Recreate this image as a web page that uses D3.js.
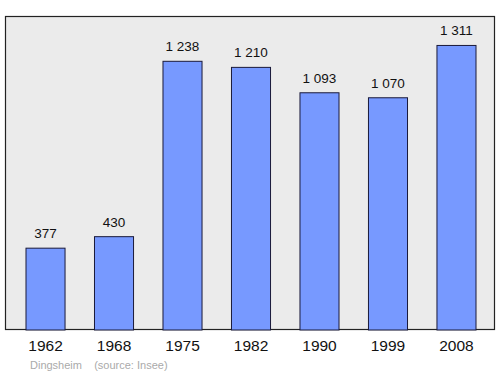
<!DOCTYPE html>
<html>
<head>
<meta charset="utf-8">
<script src="https://cdn.jsdelivr.net/npm/d3@7"></script>
<style>
  body { margin: 0; background: #fff; }
  text { font-family: "Liberation Sans", Arial, sans-serif; }
</style>
</head>
<body>
<div id="chart"></div>
<script>
// population data
const years = ["1962", "1968", "1975", "1982", "1990", "1999", "2008"];
const population = [377, 430, 1238, 1210, 1093, 1070, 1311];
const valueLabels = ["377", "430", "1 238", "1 210", "1 093", "1 070", "1 311"];

const width = 500, height = 374;

let svg = d3.select("#chart")
    .append("svg")
    .attr("width", width)
    .attr("height", height);

// panel
svg.append("rect")
    .attr("x", 5.5)
    .attr("y", 16.5)
    .attr("width", 489)
    .attr("height", 313)
    .attr("fill", "#ebebeb")
    .attr("stroke", "#222")
    .attr("stroke-width", 1.2);

let x = d3.scaleBand()
    .domain(years)
    .range([5.45, 496.55])
    .paddingInner(0.43)
    .paddingOuter(0.3);

let y = d3.scaleLinear()
    .domain([0, d3.max(population) * 1.1])
    .range([330, 17]);

let data = years.map((d, i) => ({year: d, value: population[i], label: valueLabels[i]}));

svg.selectAll("rect.bar")
    .data(data)
    .enter()
    .append("rect")
    .attr("class", "bar")
    .attr("x", d => x(d.year))
    .attr("y", d => y(d.value))
    .attr("width", x.bandwidth())
    .attr("height", d => y(0) - y(d.value))
    .attr("fill", "#7799ff")
    .attr("stroke", "#1a1a3a")
    .attr("stroke-width", 1);

// value labels
svg.selectAll("text.val")
    .data(data)
    .enter()
    .append("text")
    .attr("class", "val")
    .attr("x", d => x(d.year) + x.bandwidth() / 2)
    .attr("y", d => y(d.value) - 10)
    .attr("text-anchor", "middle")
    .attr("font-size", 13.5)
    .attr("fill", "#111")
    .text(d => d.label);

// x axis (years)
let xAxis = svg.append("g")
    .attr("transform", "translate(0, 330)")
    .call(d3.axisBottom(x).tickSize(0).tickPadding(10));
xAxis.select(".domain").remove();
xAxis.selectAll("text")
    .attr("font-family", "Liberation Sans, Arial, sans-serif")
    .attr("font-size", 15.5)
    .attr("fill", "#111");

// footer
svg.append("text")
    .attr("x", 30)
    .attr("y", 369)
    .attr("font-size", 11)
    .attr("fill", "#aaa")
    .attr("xml:space", "preserve")
    .text("Dingsheim    (source: Insee)");
</script>
</body>
</html>
